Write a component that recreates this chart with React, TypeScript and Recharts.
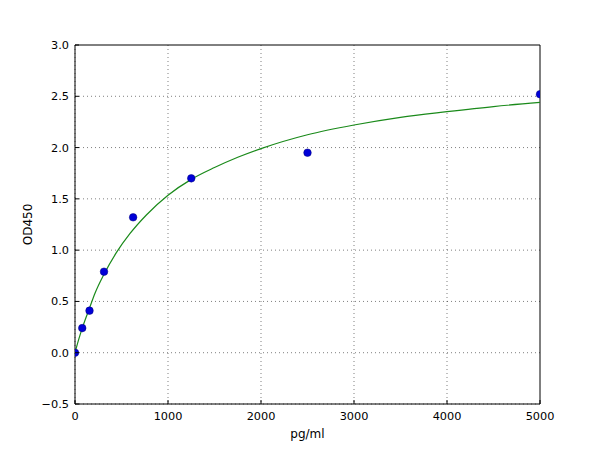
import {
  CartesianGrid,
  ComposedChart,
  Label,
  Line,
  ReferenceLine,
  Scatter,
  XAxis,
  YAxis,
} from "recharts"

// standard points (pg/ml vs OD450)
const concentrations = [0, 78, 156, 312, 625, 1250, 2500, 5000]
const odValues = [0.0, 0.24, 0.41, 0.79, 1.32, 1.7, 1.95, 2.52]

// fitted curve
const curveX = [0, 40, 78, 156, 215, 312, 448, 590, 770, 1000, 1250, 1500, 1750, 2000, 2500, 3000, 3500, 4000, 4500, 5000]
const curveY = [0, 0.13, 0.24, 0.435, 0.58, 0.765, 0.98, 1.16, 1.345, 1.535, 1.69, 1.805, 1.905, 1.99, 2.125, 2.22, 2.295, 2.35, 2.4, 2.44]

const xTicks = [0, 1000, 2000, 3000, 4000, 5000]
const yTicks = [-0.5, 0, 0.5, 1, 1.5, 2, 2.5, 3]
const xDomain = [0, 5000]
const yDomain = [-0.5, 3]

const points = concentrations.map((x, i) => ({ x, y: odValues[i] }))
const curve = curveX.map((x, i) => ({ x, y: curveY[i] }))

const FONT = "'DejaVu Sans', sans-serif"

const fmtY = (v: number) => {
  const s = v.toFixed(1)
  return s.startsWith("-") ? "\u2212" + s.slice(1) : s
}

const XTick = (props: any) => {
  const { x, y, payload } = props
  return (
    <g>
      <line x1={x} x2={x} y1={y - 7} y2={y - 11} stroke="#000" />
      <text x={x} y={y} dy={9} textAnchor="middle" fontSize={11.3} fontFamily={FONT} fill="#000">
        {payload.value}
      </text>
    </g>
  )
}

const YTick = (props: any) => {
  const { x, y, payload } = props
  return (
    <g>
      <line x1={x + 6} x2={x + 10} y1={y} y2={y} stroke="#000" />
      <text x={x} y={y} dy={4} textAnchor="end" fontSize={11.3} fontFamily={FONT} fill="#000">
        {fmtY(payload.value)}
      </text>
    </g>
  )
}

const Dot = (p: any) => (
  <circle cx={p.cx} cy={p.cy} r={3.8} fill="#0000d8" stroke="#00007a" strokeWidth={0.5} />
)

export default function App() {
  return (
    <div style={{ position: "absolute", left: 0, top: 0, background: "#fff" }}>
      <ComposedChart
        width={600}
        height={450}
        margin={{ top: 45, right: 60, bottom: 16, left: 30 }}
      >
        <CartesianGrid
          stroke="#000"
          strokeOpacity={0.5}
          strokeDasharray="1 3"
          horizontalValues={yTicks.slice(0, -1)}
          verticalValues={xTicks.slice(0, -1)}
        />
        <XAxis
          type="number"
          dataKey="x"
          domain={xDomain}
          ticks={xTicks}
          allowDataOverflow
          tickLine={false}
          tickSize={0}
          tickMargin={7}
          tick={<XTick />}
          height={30}
          stroke="#000"
        >
          <Label value="pg/ml" position="insideBottom" offset={-4} fontSize={12} fontFamily={FONT} fill="#000" />
        </XAxis>
        <YAxis
          type="number"
          dataKey="y"
          domain={yDomain}
          ticks={yTicks}
          allowDataOverflow
          tickLine={false}
          tickSize={0}
          tickMargin={6}
          tick={<YTick />}
          width={45}
          stroke="#000"
        >
          <Label value="OD450" angle={-90} position="insideLeft" offset={-2} fontSize={12} fontFamily={FONT} fill="#000" style={{ textAnchor: "middle" }} />
        </YAxis>
        {/* top and right edges of the frame */}
        <ReferenceLine y={yDomain[1]} stroke="#000" strokeWidth={1} ifOverflow="visible" />
        <ReferenceLine x={xDomain[1]} stroke="#000" strokeWidth={1} ifOverflow="visible" />
        <Line
          data={curve}
          dataKey="y"
          type="monotone"
          stroke="#1a8a1a"
          strokeWidth={1.2}
          dot={false}
          activeDot={false}
          isAnimationActive={false}
        />
        <Scatter
          data={points}
          dataKey="y"
          fill="#0000d8"
          shape={<Dot />}
          isAnimationActive={false}
        />
      </ComposedChart>
    </div>
  )
}
